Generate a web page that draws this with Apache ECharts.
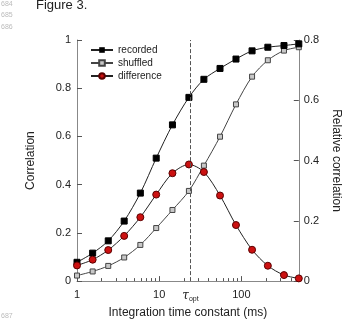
<!DOCTYPE html>
<html>
<head>
<meta charset="utf-8">
<script src="https://cdn.jsdelivr.net/npm/echarts@6/dist/echarts.min.js"></script>
<style>
  html, body { margin: 0; padding: 0; background: #fff; }
  #chart { width: 350px; height: 324px; }
</style>
</head>
<body>
<div id="chart"></div>
<script>
// integration time constants (ms)
const timeConst = [1, 1.55, 2.4, 3.75, 5.9, 9.2, 14.5, 23, 35, 55, 86, 135, 210, 330, 500];
const recorded = [0.078, 0.116, 0.167, 0.249, 0.365, 0.51, 0.648, 0.762, 0.837, 0.882, 0.921, 0.955, 0.97, 0.977, 0.984];
const shuffled = [0.023, 0.04, 0.063, 0.098, 0.15, 0.22, 0.295, 0.374, 0.479, 0.599, 0.733, 0.848, 0.916, 0.956, 0.97];
const difference = [0.052, 0.071, 0.103, 0.15, 0.212, 0.287, 0.358, 0.387, 0.362, 0.284, 0.186, 0.104, 0.051, 0.02, 0.009];
const tauOpt = 24;
const xMajorTicks = [1, 10, 100];
const xMinorTicks = [2, 3, 4, 5, 6, 7, 8, 9, 20, 30, 40, 50, 60, 70, 80, 90, 200, 300, 400];
const xLabels = [1, 10, tauOpt, 100];
const lineNumbers = ['684', '685', '686', '687'];

const font = "'Liberation Sans', Arial, sans-serif";
const pairs = ys => timeConst.map((x, i) => [x, ys[i]]);

const chart = echarts.init(document.getElementById('chart'));

const option = {
  animation: false,
  textStyle: { fontFamily: font },
  grid: { left: 77, right: 42, top: 40, bottom: 39 },
  legend: {
    orient: 'vertical',
    left: 85,
    top: 40,
    itemWidth: 22,
    itemHeight: 7,
    itemGap: 3,
    textStyle: { fontSize: 10, color: '#222', fontFamily: font },
    data: ['recorded', 'shuffled', 'difference']
  },
  xAxis: [
    {
      type: 'log',
      logBase: 10,
      min: 1,
      max: 500,
      name: 'Integration time constant (ms)',
      nameLocation: 'middle',
      nameGap: 22,
      nameTextStyle: { fontSize: 12, color: '#222' },
      axisLine: { lineStyle: { color: '#888' } },
      axisTick: { inside: true, length: 5, customValues: xMajorTicks, lineStyle: { color: '#555' } },
      axisLabel: {
        customValues: xLabels,
        margin: 8,
        fontSize: 11,
        color: '#222',
        formatter: v => Math.abs(v - tauOpt) < 0.01 ? '{t|τ}{s|opt}' : String(Math.round(v)),
        rich: {
          t: { fontSize: 12, fontStyle: 'italic', fontFamily: 'DejaVu Serif' },
          s: { fontSize: 7, padding: [6, 0, 0, 0] }
        }
      },
      splitLine: { show: false }
    },
    {
      type: 'log',
      logBase: 10,
      min: 1,
      max: 500,
      position: 'bottom',
      axisLine: { show: false },
      axisLabel: { show: false },
      axisTick: { inside: true, length: 3, customValues: xMinorTicks, lineStyle: { color: '#555' } },
      splitLine: { show: false }
    }
  ],
  yAxis: [
    {
      type: 'value',
      min: 0,
      max: 1,
      interval: 0.2,
      name: 'Correlation',
      nameLocation: 'middle',
      nameRotate: 90,
      nameGap: 40,
      nameTextStyle: { fontSize: 12, color: '#222' },
      axisLine: { show: true, lineStyle: { color: '#888' } },
      axisTick: { show: true, inside: true, length: 5, lineStyle: { color: '#555' } },
      axisLabel: { fontSize: 11, color: '#222', margin: 6 },
      splitLine: { show: false }
    },
    {
      type: 'value',
      min: 0,
      max: 0.8,
      interval: 0.2,
      position: 'right',
      name: 'Relative correlation',
      nameLocation: 'middle',
      nameRotate: -90,
      nameGap: 24,
      nameTextStyle: { fontSize: 12, color: '#222' },
      axisLine: { show: true, lineStyle: { color: '#888' } },
      axisTick: { show: true, inside: true, length: 5, lineStyle: { color: '#555' } },
      axisLabel: { fontSize: 11, color: '#222', margin: 5 },
      splitLine: { show: false }
    }
  ],
  graphic: [
    { type: 'text', left: 36, top: -1, style: { text: 'Figure 3.', fontSize: 13, fill: '#222', fontFamily: font } },
    { type: 'text', left: 1, top: 1, style: { text: lineNumbers[0], fontSize: 7, fill: '#bbb', fontFamily: font } },
    { type: 'text', left: 1, top: 12, style: { text: lineNumbers[1], fontSize: 7, fill: '#bbb', fontFamily: font } },
    { type: 'text', left: 1, top: 24, style: { text: lineNumbers[2], fontSize: 7, fill: '#bbb', fontFamily: font } },
    { type: 'text', left: 1, top: 313, style: { text: lineNumbers[3], fontSize: 7, fill: '#bbb', fontFamily: font } }
  ],
  series: [
    {
      name: 'shuffled',
      type: 'line',
      smooth: 0.3,
      symbol: 'rect',
      symbolSize: 5,
      itemStyle: { color: '#c8c8c8', borderColor: '#444', borderWidth: 1 },
      lineStyle: { color: '#444', width: 1 },
      data: pairs(shuffled),
      markLine: {
        silent: true,
        symbol: 'none',
        label: { show: false },
        lineStyle: { type: 'dashed', color: '#555', width: 1 },
        data: [{ xAxis: tauOpt }]
      }
    },
    {
      name: 'recorded',
      type: 'line',
      smooth: 0.3,
      symbol: 'rect',
      symbolSize: 6,
      itemStyle: { color: '#000', borderColor: '#000' },
      lineStyle: { color: '#222', width: 1 },
      data: pairs(recorded)
    },
    {
      name: 'difference',
      type: 'line',
      yAxisIndex: 1,
      smooth: 0.3,
      symbol: 'circle',
      symbolSize: 7,
      itemStyle: { color: '#cc1111', borderColor: '#5a0000', borderWidth: 1 },
      lineStyle: { color: '#222', width: 1 },
      data: pairs(difference)
    }
  ]
};

chart.setOption(option);
</script>
</body>
</html>
